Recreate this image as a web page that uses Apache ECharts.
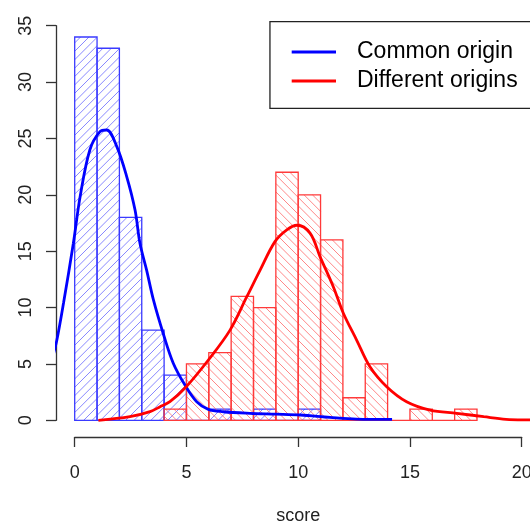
<!DOCTYPE html>
<html>
<head>
<meta charset="utf-8">
<script src="https://cdn.jsdelivr.net/npm/echarts@6/dist/echarts.min.js"></script>
<style>
html,body{margin:0;padding:0;background:#fff;}
#chart{width:530px;height:525px;}
</style>
</head>
<body>
<div id="chart"></div>
<script>
// ---- data ----
const commonBinStarts = [0,1,2,3,4,5,6,7,8,9,10];
const commonCounts    = [34,33,18,8,4,0,1,0,1,0,1];
const differentBinStarts = [4,5,6,7,8,9,10,11,12,13,14,15,16,17];
const differentCounts    = [1,5,6,11,10,22,20,16,2,5,0,1,0,1];
const binWidth = 1;

const commonCurveX = [-1.0,-0.8,-0.5,-0.06,0.24,0.68,1.13,1.43,1.88,2.33,2.7,2.92,3.22,3.52,3.96,4.41,4.94,5.46,5.98,6.65,7.84,9.0,10.1,11.42,12.6,14.2];
const commonCurveY = [5.5,7.1,10.4,15.7,19.8,24.0,25.6,25.75,24.3,21.6,18.65,15.7,13.3,10.7,7.7,5.06,3.1,1.65,0.97,0.76,0.62,0.55,0.47,0.26,0.11,0.08];
const differentCurveX = [1.06,2.47,3.37,3.82,4.26,5.0,5.98,6.95,7.7,8.29,8.96,9.49,9.95,10.53,10.98,11.57,12.02,12.62,13.21,13.96,14.85,15.9,17.1,18.3,19.3,20.4,20.8];
const differentCurveY = [0,0.32,0.77,1.2,1.65,3.0,5.35,8.0,10.96,13.3,15.85,16.9,17.3,16.6,14.5,11.85,9.5,7.1,4.75,2.98,1.65,0.91,0.62,0.32,0.09,0.03,0.02];

const xTicks = {min:0, max:20, interval:5};
const yTicks = {min:0, max:35, interval:5};

// ---- helpers ----
function histData(starts, counts){
  return starts.map((s,i)=>[s, s+binWidth, counts[i]]);
}
function zipXY(xs, ys){ return xs.map((x,i)=>[x, ys[i]]); }

function hatchRender(color, hatchColor, dir, spacing){
  return function(params, api){
    const x0 = api.value(0), x1 = api.value(1), h = api.value(2);
    const p0 = api.coord([x0, h]);
    const p1 = api.coord([x1, 0]);
    const L = p0[0], R = p1[0], T = p0[1], B = p1[1];
    const children = [];
    if (B - T > 0.5){
      if (dir > 0){ // "/" lines: x + y = c
        const cStart = Math.ceil((L+T)/spacing)*spacing;
        for (let c = cStart; c <= R+B; c += spacing){
          const xa = Math.max(L, c-B), xb = Math.min(R, c-T);
          if (xb - xa > 0.3) children.push({type:'line', shape:{x1:xa,y1:c-xa,x2:xb,y2:c-xb}, style:{stroke:hatchColor, lineWidth:0.8}});
        }
      } else { // "\" lines: x - y = c
        const cStart = Math.ceil((L-B)/spacing)*spacing;
        for (let c = cStart; c <= R-T; c += spacing){
          const xa = Math.max(L, c+T), xb = Math.min(R, c+B);
          if (xb - xa > 0.3) children.push({type:'line', shape:{x1:xa,y1:xa-c,x2:xb,y2:xb-c}, style:{stroke:hatchColor, lineWidth:0.8}});
        }
      }
    }
    children.push({type:'rect', shape:{x:L, y:T, width:R-L, height:B-T}, style:{fill:'none', stroke:color, lineWidth:1.3}});
    return {type:'group', children};
  };
}

const chart = echarts.init(document.getElementById('chart'), null, {renderer:'canvas'});
const axisColor = '#333';
const textColor = '#222';
const fontFamily = '"Liberation Sans", Arial, sans-serif';

// plot region (R usr: xlim +-4%, ylim +-4%)
const pxPerX = 22.35, pxPerY = 11.274;
const x0px = 74.7, y0px = 420.3;
const plotLeft = x0px - 0.8*pxPerX;
const plotRight = 530 - (x0px + 20.8*pxPerX);
const plotTop = y0px - 36.4*pxPerY;
const plotBottom = 525 - (y0px + 1.4*pxPerY);

chart.setOption({
  animation:false,
  backgroundColor:'#fff',
  grid:[
    {left:plotLeft, right:plotRight, top:plotTop, bottom:plotBottom, containLabel:false, outerBoundsMode:'none'},
    {left:74.7, right:8.3, top:25.7, bottom:104.7, containLabel:false, outerBoundsMode:'none'}
  ],
  xAxis:[
    {gridIndex:0, type:'value', min:-0.8, max:20.8, show:false, splitLine:{show:false}},
    {gridIndex:1, type:'value', min:xTicks.min, max:xTicks.max, interval:xTicks.interval,
     offset:16.7,
     splitLine:{show:false},
     axisLine:{show:true, onZero:false, lineStyle:{color:axisColor, width:1.3}},
     axisTick:{show:true, length:10, lineStyle:{color:axisColor, width:1.3}},
     axisLabel:{color:textColor, fontSize:18, fontFamily, margin:27},
     name:'score', nameLocation:'middle', nameGap:70,
     nameTextStyle:{color:textColor, fontSize:18, fontFamily}}
  ],
  yAxis:[
    {gridIndex:0, type:'value', min:-1.4, max:36.4, show:false, splitLine:{show:false}},
    {gridIndex:1, type:'value', min:yTicks.min, max:yTicks.max, interval:yTicks.interval,
     offset:18.7,
     splitLine:{show:false},
     axisLine:{show:true, onZero:false, lineStyle:{color:axisColor, width:1.3}},
     axisTick:{show:true, length:10, lineStyle:{color:axisColor, width:1.3}},
     axisLabel:{color:textColor, fontSize:18, fontFamily, rotate:90, margin:21}}
  ],
  graphic:[
    {type:'rect', left:269.3, top:21, z:-1,
     shape:{width:290, height:86.7},
     style:{fill:'#fff', stroke:'#222', lineWidth:1.3}}
  ],
  legend:{
    orient:'vertical', left:269.3, top:21,
    padding:[18,10,16,22.4],
    icon:'rect',
    itemWidth:44.3, itemHeight:2.8, itemGap:3,
    borderWidth:0,
    data:['Common origin','Different origins'],
    textStyle:{fontSize:23, fontFamily, color:'#000', lineHeight:26, padding:[0,0,0,16]},
    selectedMode:false
  },
  series:[
    {type:'custom', name:'commonHist', xAxisIndex:0, yAxisIndex:0,
     renderItem:hatchRender('#3a3aff', '#6a6aff', 1, 8.4),
     data:histData(commonBinStarts, commonCounts), encode:{x:[0,1], y:2}, z:2},
    {type:'custom', name:'differentHist', xAxisIndex:0, yAxisIndex:0,
     renderItem:hatchRender('#ff3a3a', '#ff6a6a', -1, 8.4),
     data:histData(differentBinStarts, differentCounts), encode:{x:[0,1], y:2}, z:3},
    {type:'line', name:'Common origin', xAxisIndex:0, yAxisIndex:0, data:zipXY(commonCurveX, commonCurveY),
     smooth:0.35, symbol:'none', showSymbol:false, clip:true, z:4,
     lineStyle:{color:'#0000ff', width:2.8}, itemStyle:{color:'#0000ff'}},
    {type:'line', name:'Different origins', xAxisIndex:0, yAxisIndex:0, data:zipXY(differentCurveX, differentCurveY),
     smooth:0.35, symbol:'none', showSymbol:false, clip:true, z:5,
     lineStyle:{color:'#ff0000', width:2.8}, itemStyle:{color:'#ff0000'}}
  ]
});
</script>
</body>
</html>
